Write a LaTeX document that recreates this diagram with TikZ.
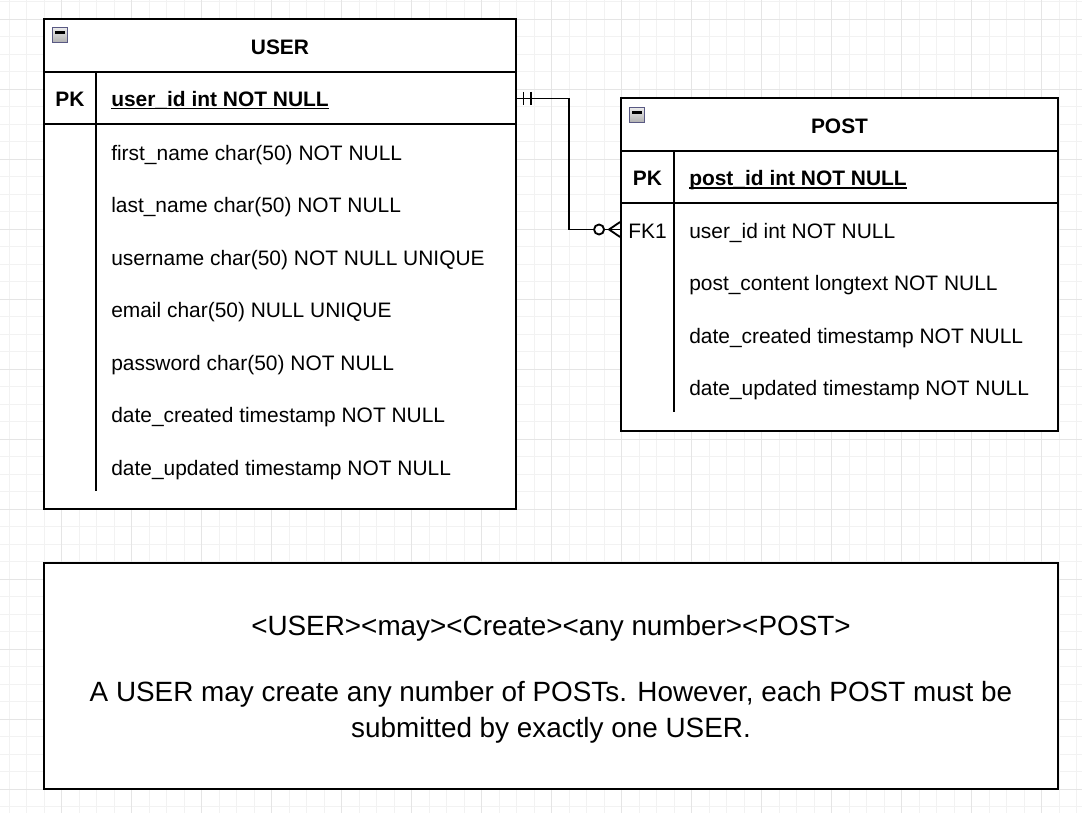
\documentclass[tikz,border=0pt]{standalone}
\usepackage{fontspec}
\setmainfont{Liberation Sans}
\begin{document}
\begin{tikzpicture}[x=0.75pt,y=-0.75pt,
  minorgrid/.style={draw=black!5,line width=0.6pt},
  majorgrid/.style={draw=black!10,line width=0.6pt},
  frame/.style={draw=black,line width=1.4pt,fill=white,inner sep=0pt},
  sep/.style={draw=black,line width=1.4pt},
  field/.style={inner sep=0pt,anchor=base west,font=\fontsize{15.7}{18}\selectfont},
  keycol/.style={inner sep=0pt,anchor=base,font=\fontsize{15.7}{18}\selectfont},
  title/.style={inner sep=0pt,anchor=base,font=\fontsize{15.7}{18}\selectfont\bfseries},
  notetext/.style={inner sep=0pt,align=center,font=\fontsize{20.9}{26.7}\selectfont},
  rel/.style={draw=black,line width=1.4pt},
  icon/.style={draw=black!45!blue!30!gray,line width=0.6pt,top color=white!92!black,bottom color=black!30}
]
\newcommand{\ulbold}[1]{\setbox0\hbox{#1}\rlap{\rule[-2.4pt]{\wd0}{1.2pt}}\box0}
\useasboundingbox (0,0) rectangle (1082,813);
\fill[white] (0,0) rectangle (1082,813);
% grid
\foreach \i in {0,...,61} \draw[minorgrid] (9.2+17.5*\i,0) -- (9.2+17.5*\i,813);
\foreach \i in {0,...,46} \draw[minorgrid] (0,1.8+17.5*\i) -- (1082,1.8+17.5*\i);
\foreach \i in {-1,...,15} \draw[majorgrid] (61.7+70*\i,0) -- (61.7+70*\i,813);
\foreach \i in {0,...,11} \draw[majorgrid] (0,19.3+70*\i) -- (1082,19.3+70*\i);

% USER table
\node[frame,minimum width=354pt,minimum height=367.5pt] (user) at (280,264) {};
\draw[sep] (44,72) -- (516,72);
\draw[sep] (44,124) -- (516,124);
\draw[sep] (96,72) -- (96,491);
\draw[icon] (52.5,27.5) rectangle (67,42);
\fill[black] (55,31.5) rectangle (64.5,34);
\node[title] (usertitle) at (280,54.5) {USER};
\node[title] (userpk) at (70,106.3) {PK};
\node[field,font=\fontsize{15.7}{18}\selectfont\bfseries] (useridf) at (111,106.3) {\ulbold{user\_id int NOT NULL}};
\node[field] (u1) at (111,160.3) {first\_name char(50) NOT NULL};
\node[field] (u2) at (111,212.8) {last\_name char(50) NOT NULL};
\node[field] (u3) at (111,265.3) {username char(50) NOT NULL UNIQUE};
\node[field] (u4) at (111,317.8) {email char(50) NULL UNIQUE};
\node[field] (u5) at (111,370.3) {password char(50) NOT NULL};
\node[field] (u6) at (111,422.8) {date\_created timestamp NOT NULL};
\node[field] (u7) at (111,475.3) {date\_updated timestamp NOT NULL};

% POST table
\node[frame,minimum width=327.75pt,minimum height=249.75pt] (post) at (839.5,264.5) {};
\draw[sep] (621,151) -- (1058,151);
\draw[sep] (621,203) -- (1058,203);
\draw[sep] (674,151) -- (674,412);
\draw[icon] (629.5,107.5) rectangle (644.5,122);
\fill[black] (632,111.5) rectangle (642,114);
\node[title] (posttitle) at (839.5,133.5) {POST};
\node[title] (postpk) at (647.5,185.8) {PK};
\node[field,font=\fontsize{15.7}{18}\selectfont\bfseries] (postidf) at (689,185.8) {\ulbold{post\_id int NOT NULL}};
\node[keycol] (postfk) at (647.5,238.3) {FK1};
\node[field] (p1) at (689,238.3) {user\_id int NOT NULL};
\node[field] (p2) at (689,290.8) {post\_content longtext NOT NULL};
\node[field] (p3) at (689,343.3) {date\_created timestamp NOT NULL};
\node[field] (p4) at (689,395.8) {date\_updated timestamp NOT NULL};

% relationship
\coordinate (ustart) at (user.east |- 0,98.5);
\coordinate (pend) at (post.west |- 0,229.5);
\coordinate (bend) at (569,98.5);
\draw[rel] (ustart) -- (bend) |- (pend);
\draw[rel] (ustart) ++(6.5,-6.5) -- ++(0,13);
\draw[rel] (ustart) ++(14,-6.5) -- ++(0,13);
\draw[rel] (pend) ++(0,-7.5) -- ++(-11,7.5) -- ++(11,7.5);
\draw[rel,fill=white] (pend) ++(-21,0) circle[radius=3.75pt];

% note
\node[frame,minimum width=760.5pt,minimum height=169.5pt] (note) at (551,676) {};
\node[notetext,anchor=base] (noteline) at (551,635) {<USER><may><Create><any number><POST>};
\node[notetext,anchor=base] (notepara) at (551,737.3) {A USER may create any number of POSTs. However, each POST must be\\submitted by exactly one USER.};
\end{tikzpicture}
\end{document}
